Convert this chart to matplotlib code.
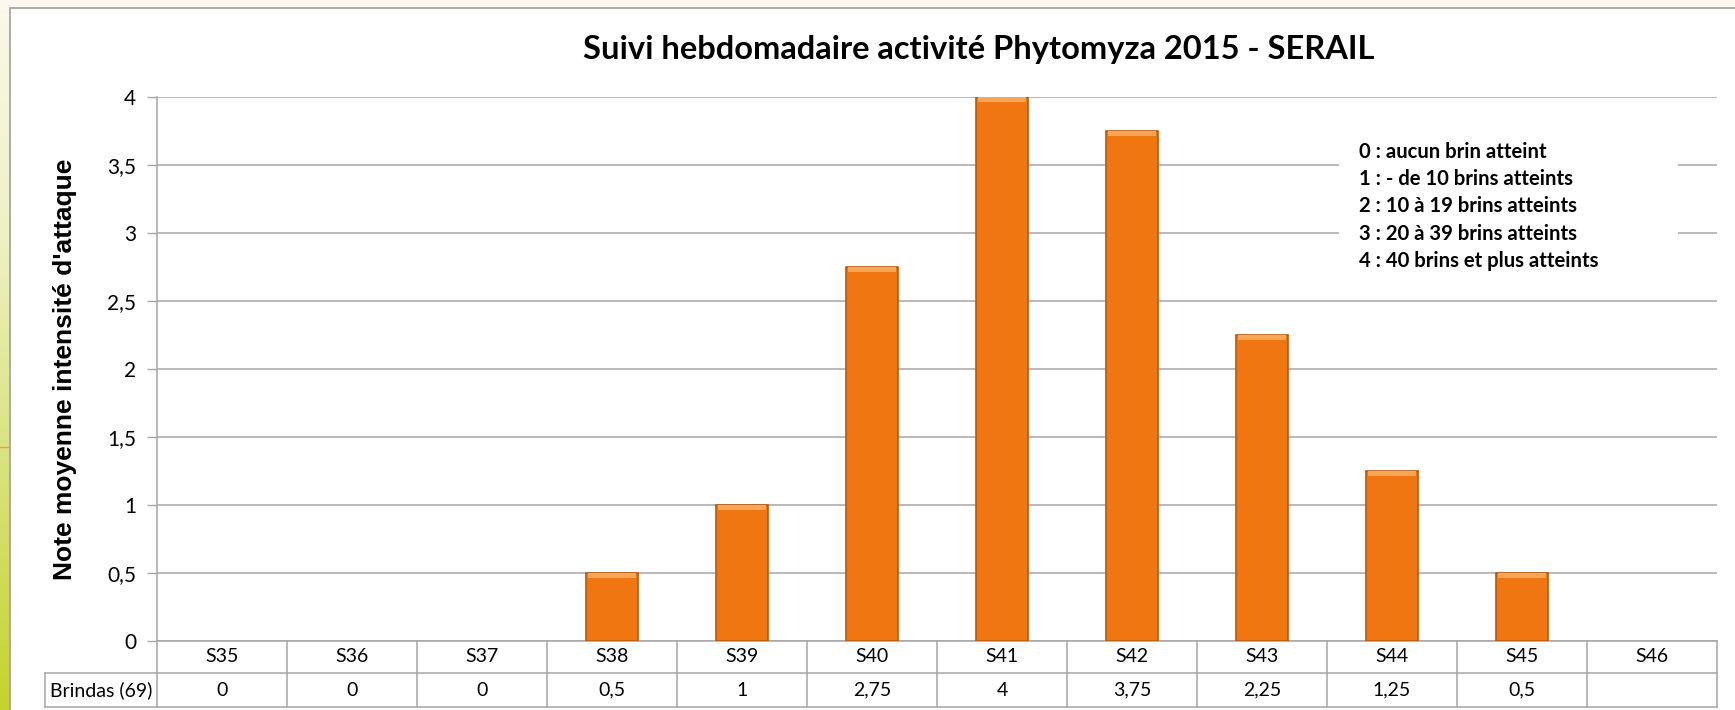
import matplotlib
matplotlib.use('Agg')
import matplotlib.pyplot as plt
from matplotlib.lines import Line2D
from matplotlib.colors import LinearSegmentedColormap
import matplotlib.patches as pat
import numpy as np

# weekly data
weeks = ['S35', 'S36', 'S37', 'S38', 'S39', 'S40', 'S41', 'S42', 'S43', 'S44', 'S45', 'S46']
brindas = [0, 0, 0, 0.5, 1, 2.75, 4, 3.75, 2.25, 1.25, 0.5, np.nan]
row_label = 'Brindas (69)'
yticks = [0, 0.5, 1, 1.5, 2, 2.5, 3, 3.5, 4]
legend_lines = ['0 : aucun brin atteint',
                '1 : - de 10 brins atteints',
                '2 : 10 à 19 brins atteints',
                '3 : 20 à 39 brins atteints',
                '4 : 40 brins et plus atteints']
title = 'Suivi hebdomadaire activité Phytomyza 2015 - SERAIL'

W, H = 1735, 710
FONT = ['Lato', 'DejaVu Sans']
NARROW = ['Liberation Sans Narrow', 'Liberation Sans', 'DejaVu Sans']
GRID = '#A6A6A6'

fig = plt.figure(figsize=(W / 100, H / 100), dpi=100)
fig.patch.set_facecolor('white')

#---- slide background: cream top, green strip on the left
bg = fig.add_axes([0, 0, 1, 1], zorder=-10)
bg.set_xlim(0, W)
bg.set_ylim(H, 0)
bg.axis('off')
bg.add_patch(pat.Rectangle((0, 0), W, 9, color='#FBF9EF'))
grad = np.linspace(0, 1, 256).reshape(-1, 1)
cm = LinearSegmentedColormap.from_list('strip', ['#FAF8EA', '#EEF1C4', '#D8E27A', '#C3D42C'])
bg.imshow(grad, cmap=cm, extent=[0, 10, H, 0], aspect='auto')
bg.plot([0, 8], [447, 447], color='#F0A030', lw=1)
bg.add_patch(pat.Rectangle((10, 8), W, H, facecolor='white', edgecolor='#9E9E9E', lw=1.2))

#---- main axes
x0, x1, ytop, ybot = 157, 1717, 97, 641
ax = fig.add_axes([x0 / W, 1 - ybot / H, (x1 - x0) / W, (ybot - ytop) / H])
ax.set_facecolor('none')
xs = np.arange(len(weeks))
ax.set_xlim(-0.5, len(weeks) - 0.5)
ax.set_ylim(0, 4)

vals = np.nan_to_num(np.array(brindas, dtype=float))
mask = vals > 0
ax.bar(xs[mask], vals[mask], width=0.4, color='#F07612', edgecolor='#B8590A', linewidth=1.2, zorder=3)
# light bevel on top of each bar
ax.bar(xs[mask], 0.04, bottom=vals[mask] - 0.04, width=0.37, color='#F8A555', linewidth=0, zorder=4)

ax.set_yticks(yticks)
ax.set_yticklabels([f'{t:g}'.replace('.', ',') for t in yticks], fontfamily=FONT, fontsize=15)
ax.tick_params(axis='y', length=7, color=GRID, width=1, pad=8)
ax.set_xticks([])
ax.grid(axis='y', color=GRID, lw=1.1, zorder=0)
for s in ['top', 'right', 'bottom']:
    ax.spines[s].set_visible(False)
ax.spines['left'].set_color(GRID)
ax.spines['left'].set_linewidth(1.1)

ax.set_ylabel("Note moyenne intensité d'attaque", fontfamily=NARROW, fontweight='bold', fontsize=19, labelpad=22)

fig.text(583 / W, 1 - 50 / H, title, fontfamily=FONT, fontweight='bold', fontsize=23.5, ha='left', va='center')

#---- legend text box
ax.add_patch(pat.Rectangle((8.59, 2.65), 2.61, 1.25, facecolor='white', edgecolor='none', zorder=2))
for i, line in enumerate(legend_lines):
    ax.text(1359 / W, 1 - (152 + i * 27.2) / H, line, transform=fig.transFigure,
            fontfamily=FONT, fontweight='bold', fontsize=14.6, va='center', ha='left', zorder=5)

#---- data table under the axis
tr = ax.get_xaxis_transform()
r1 = -32 / (ybot - ytop)
r2 = -66 / (ybot - ytop)
lab_left = -0.5 - (x0 - 45) / ((x1 - x0) / len(weeks))
lkw = dict(color=GRID, lw=1.1, transform=tr, clip_on=False)
ax.add_line(Line2D([-0.5, len(weeks) - 0.5], [0, 0], **lkw))
ax.add_line(Line2D([lab_left, len(weeks) - 0.5], [r1, r1], **lkw))
ax.add_line(Line2D([lab_left, len(weeks) - 0.5], [r2, r2], **lkw))
ax.add_line(Line2D([lab_left, lab_left], [r1, r2], **lkw))
for b in np.arange(len(weeks) + 1) - 0.5:
    ax.add_line(Line2D([b, b], [0, r2], **lkw))
for x, wk, v in zip(xs, weeks, brindas):
    ax.text(x, r1 / 2, wk, transform=tr, ha='center', va='center', fontfamily=FONT, fontsize=14)
    txt = '' if np.isnan(v) else f'{v:g}'.replace('.', ',')
    ax.text(x, (r1 + r2) / 2, txt, transform=tr, ha='center', va='center', fontfamily=FONT, fontsize=14)
ax.text((lab_left - 0.5) / 2, (r1 + r2) / 2, row_label, transform=tr, ha='center', va='center',
        fontfamily=FONT, fontsize=14)

fig.savefig('out.png', dpi=100)
